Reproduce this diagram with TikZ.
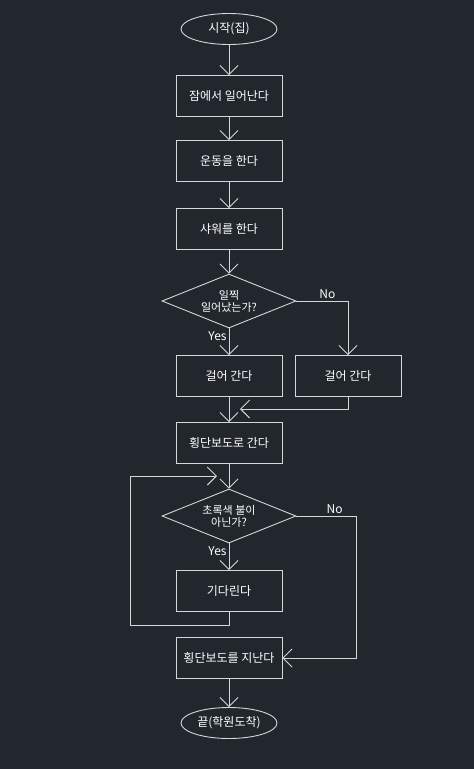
\documentclass[tikz,border=0pt]{standalone}
\usepackage{fontspec}
\setmainfont{Noto Sans CJK KR}
\usetikzlibrary{arrows.meta,positioning,shapes.geometric}
\definecolor{Slate}{HTML}{22262D}
\definecolor{Wire}{HTML}{D6D6D6}

\begin{document}
\begin{tikzpicture}[font=\fontsize{12}{14}\selectfont,x=1pt,y=1pt,line width=0.9pt,
  stepbox/.style={draw=Wire,fill=Slate,text=white,minimum width=106pt,minimum height=41pt,inner sep=2pt},
  term/.style={ellipse,draw=Wire,fill=Slate,text=white,minimum width=96pt,minimum height=31pt,inner sep=1pt},
  ask/.style={diamond,draw=Wire,fill=Slate,text=white,aspect=2.5,minimum width=134pt,minimum height=54pt,inner sep=-7pt,align=center,font=\fontsize{11}{12}\selectfont},
  flow/.style={-{Straight Barb[length=9pt,width=18pt]},draw=Wire},
  tag/.style={text=white,inner sep=2pt}]
\useasboundingbox[fill=Slate] (0,0) rectangle (474,-769);
\def\xM{229}\def\xR{348}
\node[term] (start) at (\xM,-29) {시작(집)};
\node[stepbox] (wake) at (\xM,-96) {잠에서 일어난다};
\node[stepbox] (gym) at (\xM,-161) {운동을 한다};
\node[stepbox] (shower) at (\xM,-229) {샤워를 한다};
\node[ask] (early) at (\xM,-301) {일찍\\일어났는가?};
\node[stepbox] (walkL) at (\xM,-376) {걸어 간다};
\node[stepbox] (walkR) at (\xR,-376) {걸어 간다};
\node[stepbox] (cross) at (\xM,-443) {횡단보도로 간다};
\node[ask] (green) at (\xM,-516) {초록색 불이\\아닌가?};
\node[stepbox] (wait) at (\xM,-591) {기다린다};
\node[stepbox] (pass) at (\xM,-658) {횡단보도를 지난다};
\node[term] (stop) at (\xM,-723) {끝(학원도착)};
\coordinate (merge) at (240,-409);
\coordinate (loopL) at (130,-625);
\coordinate (back) at (217,-476);
\coordinate (rail) at (356,-658);
% main line
\draw[flow] (start) -- (wake);
\draw[flow] (wake) -- (gym);
\draw[flow] (gym) -- (shower);
\draw[flow] (shower) -- (early);
\draw[flow] (early) -- node[tag,left,pos=0.3]{Yes} (walkL);
\draw[flow] (early.east) -| node[tag,above,pos=0.3]{No} (walkR);
\draw[flow] (walkR.south) |- (merge);
\draw[flow] (walkL) -- (cross);
\draw[flow] (cross) -- (green);
\draw[flow] (green) -- node[tag,left,pos=0.3]{Yes} (wait);
% wait loop
\draw[flow] (wait.south) |- (loopL) |- (back);
\draw[flow] (green.east) -| node[tag,above,pos=0.32]{No} (rail) -- (pass);
\draw[flow] (pass) -- (stop);
\end{tikzpicture}
\end{document}
